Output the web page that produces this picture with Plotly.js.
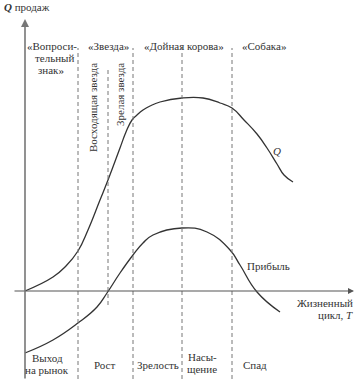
<!DOCTYPE html>
<html><head><meta charset="utf-8">
<script src="https://cdn.plot.ly/plotly-3.0.1.min.js"></script>
<style>html,body{margin:0;padding:0;background:#fff}</style>
</head><body><div id="chart" style="width:357px;height:379px"></div>
<script>
// Life cycle time (T) and sales volume (Q)
var qT = [0, 2.8, 4.1, 5.3, 6.3, 7.5, 8.3, 9.5, 10.1, 10.7, 11.2, 11.8, 12.5, 13.5, 15.7, 17.8, 19.5, 20.7, 21.9, 23.2, 24.2, 25.2, 25.9, 26.8];
var qV = [0, 7, 12.5, 20, 30.5, 45.5, 55.5, 71.5, 79.5, 85.5, 88, 90.5, 92.5, 94.5, 96.5, 96.5, 94, 91.5, 85.5, 78.5, 71.5, 63.5, 58, 54.5];
// Profit
var pT = [0, 2.8, 5.3, 7.2, 8.2, 9.5, 10.8, 11.8, 12.8, 15.7, 18.2, 20.5, 21.5, 23.2, 25.5];
var pV = [-31, -24.5, -16, -8, -1, 9, 18, 24, 28, 31.5, 29.5, 20.5, 13, -0.5, -10.5];
// Stage boundaries (T)
var stageBounds = [5.3, 8.3, 10.8, 15.7, 20.7];
var boundTop = [121.5, 110.5, 121.5, 121.5, 121.5];
var boundBottom = [-44, -7, -44, -44, -44];
// Matrix (BCG) labels on top
var topLabels = ["«Вопроси-", "тельный", "знак»", "«Звезда»", "«Дойная корова»", "«Собака»"];
var topT = [2.7, 2.9, 2.6, 8.3, 15.9, 23.9];
var topV = [122.5, 116.5, 110.5, 122.5, 122.5, 122.5];
// Rotated sub-stage labels
var subLabels = ["Восходящая звезда", "Зрелая звезда"];
var subT = [6.8, 9.5];
var subV = [91.5, 98];
// Stage names at bottom
var stageLabels = ["Выход", "на рынок", "Рост", "Зрелость", "Насы-", "щение", "Спад"];
var stageT = [2.2, 2.2, 8.0, 13.3, 17.7, 17.7, 23.0];
var stageV = [-33.3, -39.3, -36.8, -36.8, -33.0, -39.0, -36.8];

var FONT = "Liberation Serif, Times New Roman, serif";
var TXT = "#333";
var traces = [
  {x: qT, y: qV, mode: "lines", line: {color: "#333", width: 1.3, shape: "spline", smoothing: 1.3}, hoverinfo: "skip"},
  {x: pT, y: pV, mode: "lines", line: {color: "#333", width: 1.3, shape: "spline", smoothing: 1.3}, hoverinfo: "skip"}
];
var shapes = [];
stageBounds.forEach(function (b, i) {
  shapes.push({type: "line", xref: "x", yref: "y", x0: b, x1: b, y0: boundBottom[i], y1: boundTop[i],
    line: {color: "#777", width: 1, dash: "4px,3px"}});
});
var ann = [];
function A(t, x, y, o) {
  var a = {text: t, x: x, y: y, xref: "x", yref: "y", showarrow: false, xanchor: "center", yanchor: "middle",
    borderpad: 0, font: {family: FONT, size: 11, color: TXT}};
  for (var k in o) a[k] = o[k];
  ann.push(a);
}
// axes as arrows
ann.push({x: 32.9, y: 0, ax: -1.2, ay: 0, axref: "x", ayref: "y", xref: "x", yref: "y", text: "", showarrow: true,
  arrowhead: 2, arrowsize: 1, arrowwidth: 1.2, arrowcolor: "#555"});
ann.push({x: 0, y: 136, ax: 0, ay: -44.5, axref: "x", ayref: "y", xref: "x", yref: "y", text: "", showarrow: true,
  arrowhead: 2, arrowsize: 1, arrowwidth: 1.6, arrowcolor: "#777"});
A("<b><i>Q</i></b> продаж", -2.2, 142, {xanchor: "left"});
topLabels.forEach(function (t, i) { A(t, topT[i], topV[i]); });
subLabels.forEach(function (t, i) { A(t, subT[i], subV[i], {textangle: -90}); });
stageLabels.forEach(function (t, i) { A(t, stageT[i], stageV[i]); });
A("<i>Q</i>", 25.2, 70);
A("Прибыль", 24.35, 12.5);
A("Жизненный", 32.9, -5.75, {xanchor: "right"});
A("цикл, <i>T</i>", 32.9, -11.75, {xanchor: "right"});

var layout = {
  width: 357, height: 379, margin: {l: 0, r: 0, t: 0, b: 0},
  paper_bgcolor: "#fff", plot_bgcolor: "#fff", showlegend: false,
  font: {family: FONT},
  xaxis: {range: [-2.5, 33.2], visible: false, fixedrange: true},
  yaxis: {range: [-44, 145.5], visible: false, fixedrange: true},
  shapes: shapes, annotations: ann
};
Plotly.newPlot("chart", traces, layout, {displayModeBar: false, staticPlot: true});
</script></body></html>
